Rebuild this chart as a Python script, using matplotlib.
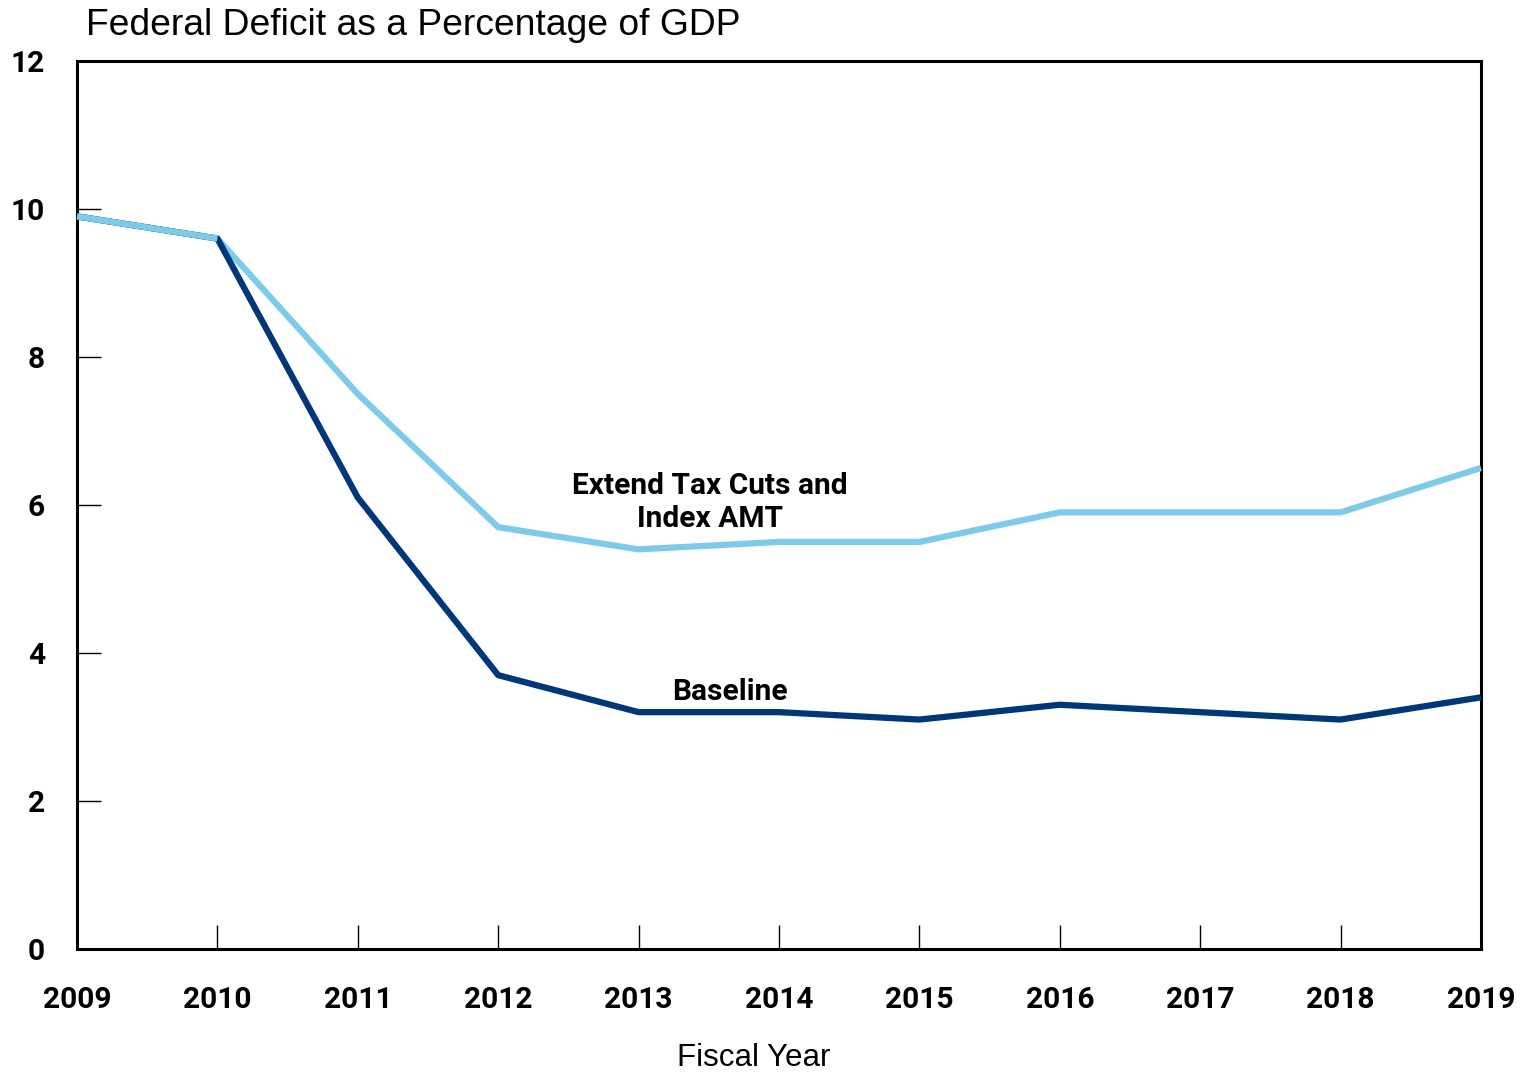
import matplotlib.pyplot as plt

# ---- Data ----
years = [2009, 2010, 2011, 2012, 2013, 2014, 2015, 2016, 2017, 2018, 2019]
baseline = [9.9, 9.6, 6.1, 3.7, 3.2, 3.2, 3.1, 3.3, 3.2, 3.1, 3.4]
extend_tax = [9.9, 9.6, 7.5, 5.7, 5.4, 5.5, 5.5, 5.9, 5.9, 5.9, 6.5]
yticks = [0, 2, 4, 6, 8, 10, 12]

light_blue = '#7ecbe9'
navy = '#003778'

# ---- Plotting ----
fig = plt.figure(figsize=(15.28, 10.73), dpi=100)
ax = fig.add_axes([0.0504, 0.1156, 0.9188, 0.8276])

ax.plot(years, extend_tax, color=light_blue, lw=4.5, solid_capstyle='butt', zorder=3, clip_on=False)
ax.plot(years, baseline, color=navy, lw=4.5, solid_capstyle='butt', zorder=4, clip_on=False)
# light line drawn on top for the shared 2009-2010 segment
ax.plot(years[:2], extend_tax[:2], color=light_blue, lw=4.5, solid_capstyle='butt', zorder=5)

ax.set_xlim(2009, 2019)
ax.set_ylim(0, 12)
ax.set_xticks(years)
ax.set_yticks(yticks)

tick_font = dict(family='Roboto', weight='bold', size=21.5)
ax.set_xticklabels([str(y) for y in years], fontdict=tick_font)
ax.set_yticklabels([str(v) for v in yticks], fontdict=tick_font)

ax.tick_params(axis='x', direction='in', length=17, width=1, pad=27)
ax.tick_params(axis='y', direction='in', length=17, width=1, pad=23)
for side in ['left', 'right', 'top', 'bottom']:
    ax.spines[side].set_linewidth(2.2)

fig.text(0.4935, 0.014, 'Fiscal Year', family='Liberation Sans', size=22.5,
         ha='center', va='center')
fig.text(0.0563, 0.976, 'Federal Deficit as a Percentage of GDP',
         family='Liberation Sans', size=26.8, ha='left', va='center')

label_font = dict(family='Roboto', weight='bold', size=21.5)
ax.text(2013.51, 6.03, 'Extend Tax Cuts and\nIndex AMT', ha='center', va='center',
        linespacing=1.25, **label_font)
ax.text(2013.65, 3.47, 'Baseline', ha='center', va='center', **label_font)

plt.savefig('out.png', dpi=100)
